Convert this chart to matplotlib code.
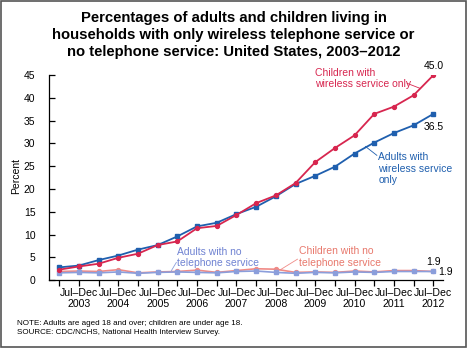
import matplotlib
matplotlib.use("Agg")
import matplotlib.pyplot as plt
from matplotlib.patches import Rectangle

plt.rcParams['font.family'] = ['Liberation Sans', 'DejaVu Sans']

periods = list(range(20))
tick_labels = ["", "Jul\u2013Dec\n2003", "", "Jul\u2013Dec\n2004", "", "Jul\u2013Dec\n2005",
               "", "Jul\u2013Dec\n2006", "", "Jul\u2013Dec\n2007", "", "Jul\u2013Dec\n2008",
               "", "Jul\u2013Dec\n2009", "", "Jul\u2013Dec\n2010", "", "Jul\u2013Dec\n2011",
               "", "Jul\u2013Dec\n2012"]

adults_wireless = [2.8, 3.2, 4.4, 5.4, 6.7, 7.7, 9.6, 11.8, 12.6, 14.5,
                   16.1, 18.4, 21.1, 22.9, 24.9, 27.8, 30.2, 32.3, 34.0, 36.5]
children_wireless = [2.3, 3.0, 3.6, 4.9, 5.8, 7.7, 8.5, 11.4, 11.9, 14.3,
                     16.9, 18.6, 21.3, 25.9, 29.0, 31.8, 36.5, 38.1, 40.6, 45.0]
adults_nophone = [1.6, 1.7, 1.6, 1.8, 1.5, 1.7, 1.8, 1.7, 1.6, 1.9,
                  2.0, 1.7, 1.5, 1.7, 1.6, 1.8, 1.7, 1.9, 1.9, 1.9]
children_nophone = [1.9, 2.0, 1.9, 2.3, 1.6, 1.8, 1.9, 2.2, 1.7, 2.1,
                    2.5, 2.4, 1.7, 1.8, 1.7, 2.0, 1.8, 2.1, 2.1, 1.9]

c_red = "#d7264f"
c_blue = "#1f5fae"
c_lblue = "#8b9edb"
c_salmon = "#f08a86"

fig = plt.figure(figsize=(4.67, 3.48), dpi=100)
ax = fig.add_axes([0.1056, 0.195, 0.8435, 0.589])

ax.plot(periods, children_nophone, color=c_salmon, lw=1.2, marker='o', ms=2.8, zorder=2)
ax.plot(periods, adults_nophone, color=c_lblue, lw=1.2, marker='s', ms=3.0, zorder=3)
ax.plot(periods, adults_wireless, color=c_blue, lw=1.3, marker='s', ms=3.0, zorder=4)
ax.plot(periods, children_wireless, color=c_red, lw=1.3, marker='o', ms=2.8, zorder=5)

ax.set_xlim(-0.5, 19.5)
ax.set_ylim(0, 45)
ax.set_yticks(range(0, 46, 5))
ax.set_xticks(periods)
ax.set_xticklabels(tick_labels, linespacing=1.12)
for s in ['top', 'right']:
    ax.spines[s].set_visible(False)
ax.spines['left'].set_linewidth(0.9)
ax.spines['bottom'].set_linewidth(0.9)
ax.tick_params(axis='y', labelsize=7.5, length=4, width=0.9, pad=10, direction='in')
ax.tick_params(axis='x', labelsize=7.6, length=4, width=0.9, pad=1.5)
ax.set_ylabel("Percent", fontsize=7.5)
ax.yaxis.set_label_coords(-0.0726, 0.506)

fig.text(0.5, 0.968, "Percentages of adults and children living in\n"
         "households with only wireless telephone service or\n"
         "no telephone service: United States, 2003\u20132012",
         ha='center', va='top', fontsize=10.7, fontweight='bold', linespacing=1.25)

# annotations
ax.text(19, 45.9, "45.0", ha='center', va='bottom', fontsize=7.5)
ax.text(19, 33.6, "36.5", ha='center', va='center', fontsize=7.5)
ax.text(19, 4.0, "1.9", ha='center', va='center', fontsize=7.5)
ax.text(19.25, 1.75, "1.9", ha='left', va='center', fontsize=7.5)

ax.text(13.0, 44.2, "Children with\nwireless service only", color=c_red, fontsize=7.5,
        ha='left', va='center', linespacing=1.15)
ax.plot([17.67, 18.33], [43.2, 42.1], color=c_red, lw=0.6)

ax.text(16.2, 24.5, "Adults with\nwireless service\nonly", color=c_blue, fontsize=7.5,
        ha='left', va='center', linespacing=1.15)
ax.plot([15.55, 16.13], [29.35, 27.4], color=c_blue, lw=0.6)

ax.text(6.0, 4.95, "Adults with no\ntelephone service", color="#6f82d2", fontsize=7.5,
        ha='left', va='center', linespacing=1.15)
ax.plot([5.95, 5.7], [3.9, 2.1], color=c_lblue, lw=0.6)

ax.text(12.2, 5.1, "Children with no\ntelephone service", color="#e8786c", fontsize=7.5,
        ha='left', va='center', linespacing=1.15)
ax.plot([12.1, 11.2], [4.6, 2.2], color=c_salmon, lw=0.6)

fig.text(0.036, 0.0575, "NOTE: Adults are aged 18 and over; children are under age 18.\n"
         "SOURCE: CDC/NCHS, National Health Interview Survey.",
         ha='left', va='center', fontsize=5.8, linespacing=1.35)

fig.patches.append(Rectangle((0.002, 0.003), 0.995, 0.993, transform=fig.transFigure,
                             fill=False, edgecolor="#555555", lw=1.2))

fig.savefig("out.png", dpi=100)
